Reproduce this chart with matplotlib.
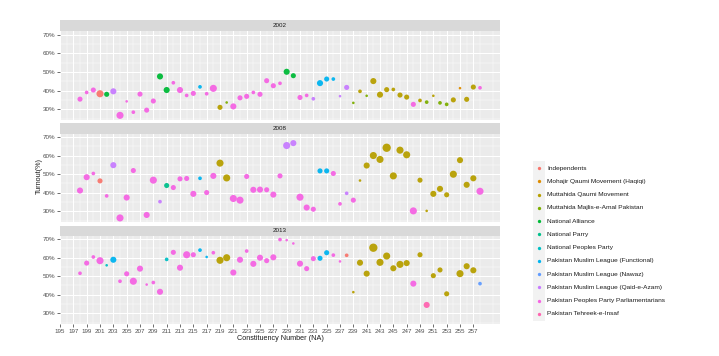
import matplotlib
matplotlib.use("Agg")
import matplotlib.pyplot as plt
from matplotlib.patches import Rectangle


plt.rcParams["font.family"] = ["Liberation Sans", "DejaVu Sans"]

# ----------------------------------------------------------
# party order / ggplot hue colours
# ----------------------------------------------------------
PARTY_KEYS = ["IND", "MQMH", "MQM", "MMA", "NAL", "NP", "NPP",
              "PMLF", "PMLN", "PMLQ", "PPPP", "PTI"]
PARTY_NAMES = [
    "Independents",
    "Mohajir Qaumi Movement (Haqiqi)",
    "Muttahida Qaumi Movement",
    "Muttahida Majlis-e-Amal Pakistan",
    "National Alliance",
    "National Parry",
    "National Peoples Party",
    "Pakistan Muslim League (Functional)",
    "Pakistan Muslim League (Nawaz)",
    "Pakistan Muslim League (Qaid-e-Azam)",
    "Pakistan Peoples Party Parliamentarians",
    "Pakistan Tehreek-e-Insaf",
]
PARTY_COLORS = ["#F8766D", "#DE8C00", "#B79F00", "#7CAE00", "#00BA38", "#00C08B",
                "#00BFC4", "#00B4F0", "#619CFF", "#C77CFF", "#F564E3", "#FF64B0"]

# ----------------------------------------------------------
# data: constituency, turnout(%), winning party, vote band (size)
# ----------------------------------------------------------
const_2002 = [198, 199, 200, 201, 202, 203, 204, 205, 206, 207, 208, 209, 210, 211, 212,
              213, 214, 215, 216, 217, 218, 219, 220, 221, 222, 223, 224, 225, 226, 227,
              228, 229, 230, 231, 232, 233, 234, 235, 236, 237, 238, 239, 240, 241, 242,
              243, 244, 245, 246, 247, 248, 249, 250, 251, 252, 253, 254, 255, 256, 257, 258]
turnout_2002 = [35.4, 39.0, 40.3, 38.3, 38.0, 39.6, 26.7, 34.2, 28.4, 38.1, 29.5, 34.4, 47.6, 40.3, 44.2,
                40.3, 37.4, 38.5, 42.0, 38.3, 41.2, 31.0, 33.6, 31.5, 36.1, 36.9, 39.0, 38.0, 45.3, 42.6,
                43.9, 50.1, 48.0, 36.3, 37.4, 35.6, 44.0, 46.2, 46.2, 37.0, 41.7, 33.4, 39.6, 37.2, 45.1,
                37.8, 40.5, 40.6, 37.6, 36.5, 32.6, 34.7, 33.8, 37.2, 33.4, 32.6, 35.0, 41.3, 35.3, 41.9, 41.5]
party_2002 = ["PPPP", "PPPP", "PPPP", "IND", "NAL", "PMLQ", "PPPP", "PPPP", "PPPP", "PPPP", "PPPP", "PPPP", "NAL", "NAL", "PPPP",
              "PPPP", "PPPP", "PPPP", "PMLF", "PPPP", "PPPP", "MQM", "MMA", "PPPP", "PPPP", "PPPP", "PPPP", "PPPP", "PPPP", "PPPP",
              "PPPP", "NAL", "NAL", "PPPP", "PPPP", "PMLQ", "PMLF", "PMLF", "PMLF", "PMLQ", "PMLQ", "MMA", "MQM", "MMA", "MQM",
              "MQM", "MQM", "MQM", "MQM", "MQM", "PPPP", "MQM", "MMA", "MQM", "MMA", "MMA", "MQM", "MQMH", "MQM", "MQM", "PPPP"]
band_2002 = [3, 2, 3, 5, 3, 4, 5, 1, 2, 3, 3, 3, 4, 4, 2,
             4, 2, 3, 2, 2, 5, 3, 1, 4, 3, 3, 2, 3, 3, 3,
             2, 4, 3, 3, 2, 2, 4, 3, 2, 1, 3, 1, 2, 1, 4,
             4, 3, 2, 3, 3, 3, 2, 2, 1, 2, 2, 3, 1, 3, 3, 2]

const_2008 = [198, 199, 200, 201, 202, 203, 204, 205, 206, 208, 209, 210, 211, 212, 213,
              214, 215, 216, 217, 218, 219, 220, 221, 222, 223, 224, 225, 226, 227, 228,
              229, 230, 231, 232, 233, 234, 235, 236, 237, 238, 239, 240, 241, 242, 243,
              244, 245, 246, 247, 248, 249, 250, 251, 252, 253, 254, 255, 256, 257, 258]
turnout_2008 = [41.2, 48.4, 50.4, 46.4, 38.3, 54.9, 26.4, 37.4, 52.0, 28.0, 46.8, 35.2, 43.9, 42.8, 47.5,
                47.7, 39.4, 47.8, 40.1, 49.1, 56.0, 48.0, 36.9, 36.0, 48.8, 41.6, 41.7, 41.6, 39.0, 49.1,
                65.5, 66.8, 37.6, 32.0, 31.1, 51.8, 51.8, 50.4, 34.0, 39.7, 36.0, 46.6, 54.7, 60.1, 58.0,
                64.3, 49.1, 63.0, 60.5, 30.2, 46.8, 30.2, 39.4, 42.1, 38.9, 50.0, 57.6, 44.3, 47.8, 40.8]
party_2008 = ["PPPP", "PPPP", "PPPP", "IND", "PPPP", "PMLQ", "PPPP", "PPPP", "PPPP", "PPPP", "PPPP", "PMLQ", "NP", "PPPP", "PPPP",
              "PPPP", "PPPP", "PMLF", "PPPP", "PPPP", "MQM", "MQM", "PPPP", "PPPP", "PPPP", "PPPP", "PPPP", "PPPP", "PPPP", "PPPP",
              "PMLQ", "PMLQ", "PPPP", "PPPP", "PPPP", "PMLF", "PMLF", "PPPP", "PPPP", "PMLQ", "PPPP", "MQM", "MQM", "MQM", "MQM",
              "MQM", "MQM", "MQM", "MQM", "PPPP", "MQM", "MQM", "MQM", "MQM", "MQM", "MQM", "MQM", "MQM", "MQM", "PPPP"]
band_2008 = [4, 4, 2, 3, 2, 4, 5, 4, 3, 4, 5, 2, 3, 3, 3,
             3, 4, 2, 3, 4, 5, 5, 5, 5, 3, 4, 4, 3, 4, 3,
             5, 4, 5, 4, 3, 3, 3, 3, 2, 2, 3, 1, 4, 5, 5,
             6, 5, 5, 5, 5, 3, 1, 4, 4, 3, 5, 4, 4, 4, 5]

const_2013 = [198, 199, 200, 201, 202, 203, 204, 205, 206, 207, 208, 209, 210, 211, 212,
              213, 214, 215, 216, 217, 218, 219, 220, 221, 222, 223, 224, 225, 226, 227,
              228, 229, 230, 231, 232, 233, 234, 235, 236, 237, 238, 239, 240, 241, 242,
              243, 244, 245, 246, 247, 248, 249, 250, 251, 252, 253, 255, 256, 257, 258]
turnout_2013 = [51.6, 57.1, 60.4, 58.4, 55.9, 58.9, 47.3, 51.3, 47.3, 54.1, 45.5, 46.6, 41.6, 59.1, 62.9,
                54.6, 61.6, 61.6, 64.1, 60.4, 62.7, 58.6, 60.0, 52.0, 58.9, 63.6, 56.7, 60.0, 58.4, 60.2,
                69.8, 69.5, 67.7, 56.8, 54.1, 59.5, 59.7, 62.7, 61.4, 58.0, 61.3, 41.4, 57.3, 51.4, 65.4,
                57.5, 60.9, 54.3, 56.4, 57.1, 46.0, 61.6, 34.5, 50.3, 53.4, 40.5, 51.4, 55.4, 53.2, 46.0]
party_2013 = ["PPPP", "PPPP", "PPPP", "PPPP", "NPP", "PMLF", "PPPP", "PPPP", "PPPP", "PPPP", "PPPP", "PPPP", "PPPP", "NPP", "PPPP",
              "PPPP", "PPPP", "PPPP", "PMLF", "PMLF", "PPPP", "MQM", "MQM", "PPPP", "PPPP", "PPPP", "PPPP", "PPPP", "PPPP", "PPPP",
              "PPPP", "PPPP", "PPPP", "PPPP", "PPPP", "PPPP", "PMLF", "PMLF", "PPPP", "PPPP", "IND", "MQM", "MQM", "MQM", "MQM",
              "MQM", "MQM", "MQM", "MQM", "MQM", "PPPP", "MQM", "PTI", "MQM", "MQM", "MQM", "MQM", "MQM", "MQM", "PMLN"]
band_2013 = [2, 3, 2, 5, 1, 4, 2, 3, 5, 4, 1, 2, 4, 2, 3,
             4, 5, 3, 2, 1, 2, 5, 5, 4, 4, 2, 4, 4, 3, 4,
             2, 1, 1, 4, 3, 3, 3, 3, 2, 1, 2, 1, 4, 4, 6,
             5, 5, 4, 5, 4, 4, 3, 4, 3, 3, 3, 5, 4, 4, 2]

YEARS = ["2002", "2008", "2013"]

W, H = 719, 356
PANEL_LEFT, PANEL_RIGHT = 60, 500
# (strip top, plot top, plot bottom) in pixels from the top
PANEL_ROWS = [(20, 31, 120), (123, 133.5, 222), (225.5, 235.5, 324)]


def fx(px):
    return px / W


def fy(py):
    return 1 - py / H


def band_to_area(band):
    # vote band -> marker diameter in pixels -> area in points^2
    diam_px = {1: 2.6, 2: 3.7, 3: 5.1, 4: 6.1, 5: 7.1, 6: 8.3}[band]
    return (diam_px * 0.72) ** 2


def draw_panel(fig, row, year, const, turnout, party, band, show_x):
    strip_top, top, bottom = PANEL_ROWS[row]

    ax = fig.add_axes([fx(PANEL_LEFT), fy(bottom), fx(PANEL_RIGHT - PANEL_LEFT), (bottom - top) / H])
    ax.set_facecolor("#EBEBEB")
    for s in ax.spines.values():
        s.set_visible(False)

    ax.set_xlim(195, 261)
    ax.set_ylim(24.2, 72.0)
    ax.set_xticks(range(195, 258, 2))
    ax.set_xticks(range(196, 261, 2), minor=True)
    ax.set_yticks([30, 40, 50, 60, 70])
    ax.set_yticks([25, 35, 45, 55, 65], minor=True)
    ax.set_yticklabels([f"{v}%" for v in [30, 40, 50, 60, 70]])

    ax.grid(which="major", color="white", lw=0.75)
    ax.grid(which="minor", color="white", lw=0.35)
    ax.set_axisbelow(True)

    ax.tick_params(axis="both", which="major", length=2, width=0.5, color="#333333",
                   labelsize=4.5, labelcolor="#4D4D4D", pad=1.5)
    ax.tick_params(axis="both", which="minor", length=0)
    if not show_x:
        ax.tick_params(axis="x", which="major", length=0, labelbottom=False)

    colors = [PARTY_COLORS[PARTY_KEYS.index(p)] for p in party]
    sizes = [band_to_area(b) for b in band]
    ax.scatter(const, turnout, s=sizes, c=colors, alpha=0.95, linewidths=0, zorder=3)

    # facet strip
    sax = fig.add_axes([fx(PANEL_LEFT), fy(top), fx(PANEL_RIGHT - PANEL_LEFT), (top - strip_top) / H])
    sax.set_facecolor("#D9D9D9")
    sax.set_xticks([])
    sax.set_yticks([])
    for s in sax.spines.values():
        s.set_visible(False)
    sax.text(0.5, 0.5, year, ha="center", va="center", fontsize=4.5, color="#1A1A1A",
             transform=sax.transAxes)
    return ax


def draw_legend(fig):
    key_x, key_w = 533, 12
    first_y, step = 168, 13.27
    for i, (name, color) in enumerate(zip(PARTY_NAMES, PARTY_COLORS)):
        cy = first_y + i * step
        fig.patches.append(Rectangle((fx(key_x), fy(cy + step / 2)), key_w / W, step / H,
                                     transform=fig.transFigure, facecolor="#F2F2F2",
                                     edgecolor="none"))
        fig.lines.append(plt.Line2D([fx(key_x + key_w / 2)], [fy(cy)], transform=fig.transFigure,
                                    marker="o", markersize=2.4, markeredgewidth=0,
                                    color=color, linestyle="none"))
        fig.text(fx(547), fy(cy), name, ha="left", va="center", fontsize=4.65, color="#1A1A1A")


def main():
    fig = plt.figure(figsize=(W / 100, H / 100), dpi=100)

    draw_panel(fig, 0, YEARS[0], const_2002, turnout_2002, party_2002, band_2002, False)
    draw_panel(fig, 1, YEARS[1], const_2008, turnout_2008, party_2008, band_2008, False)
    draw_panel(fig, 2, YEARS[2], const_2013, turnout_2013, party_2013, band_2013, True)

    fig.text(fx(39), fy(176), "Turnout(%)", rotation=90, ha="center", va="center",
             fontsize=5.2, color="#1A1A1A")
    fig.text(fx(280), fy(338), "Constituency Number (NA)", ha="center", va="center",
             fontsize=5.2, color="#1A1A1A")

    draw_legend(fig)

    fig.savefig("out.png", dpi=100)
    plt.close(fig)


if __name__ == "__main__":
    main()
